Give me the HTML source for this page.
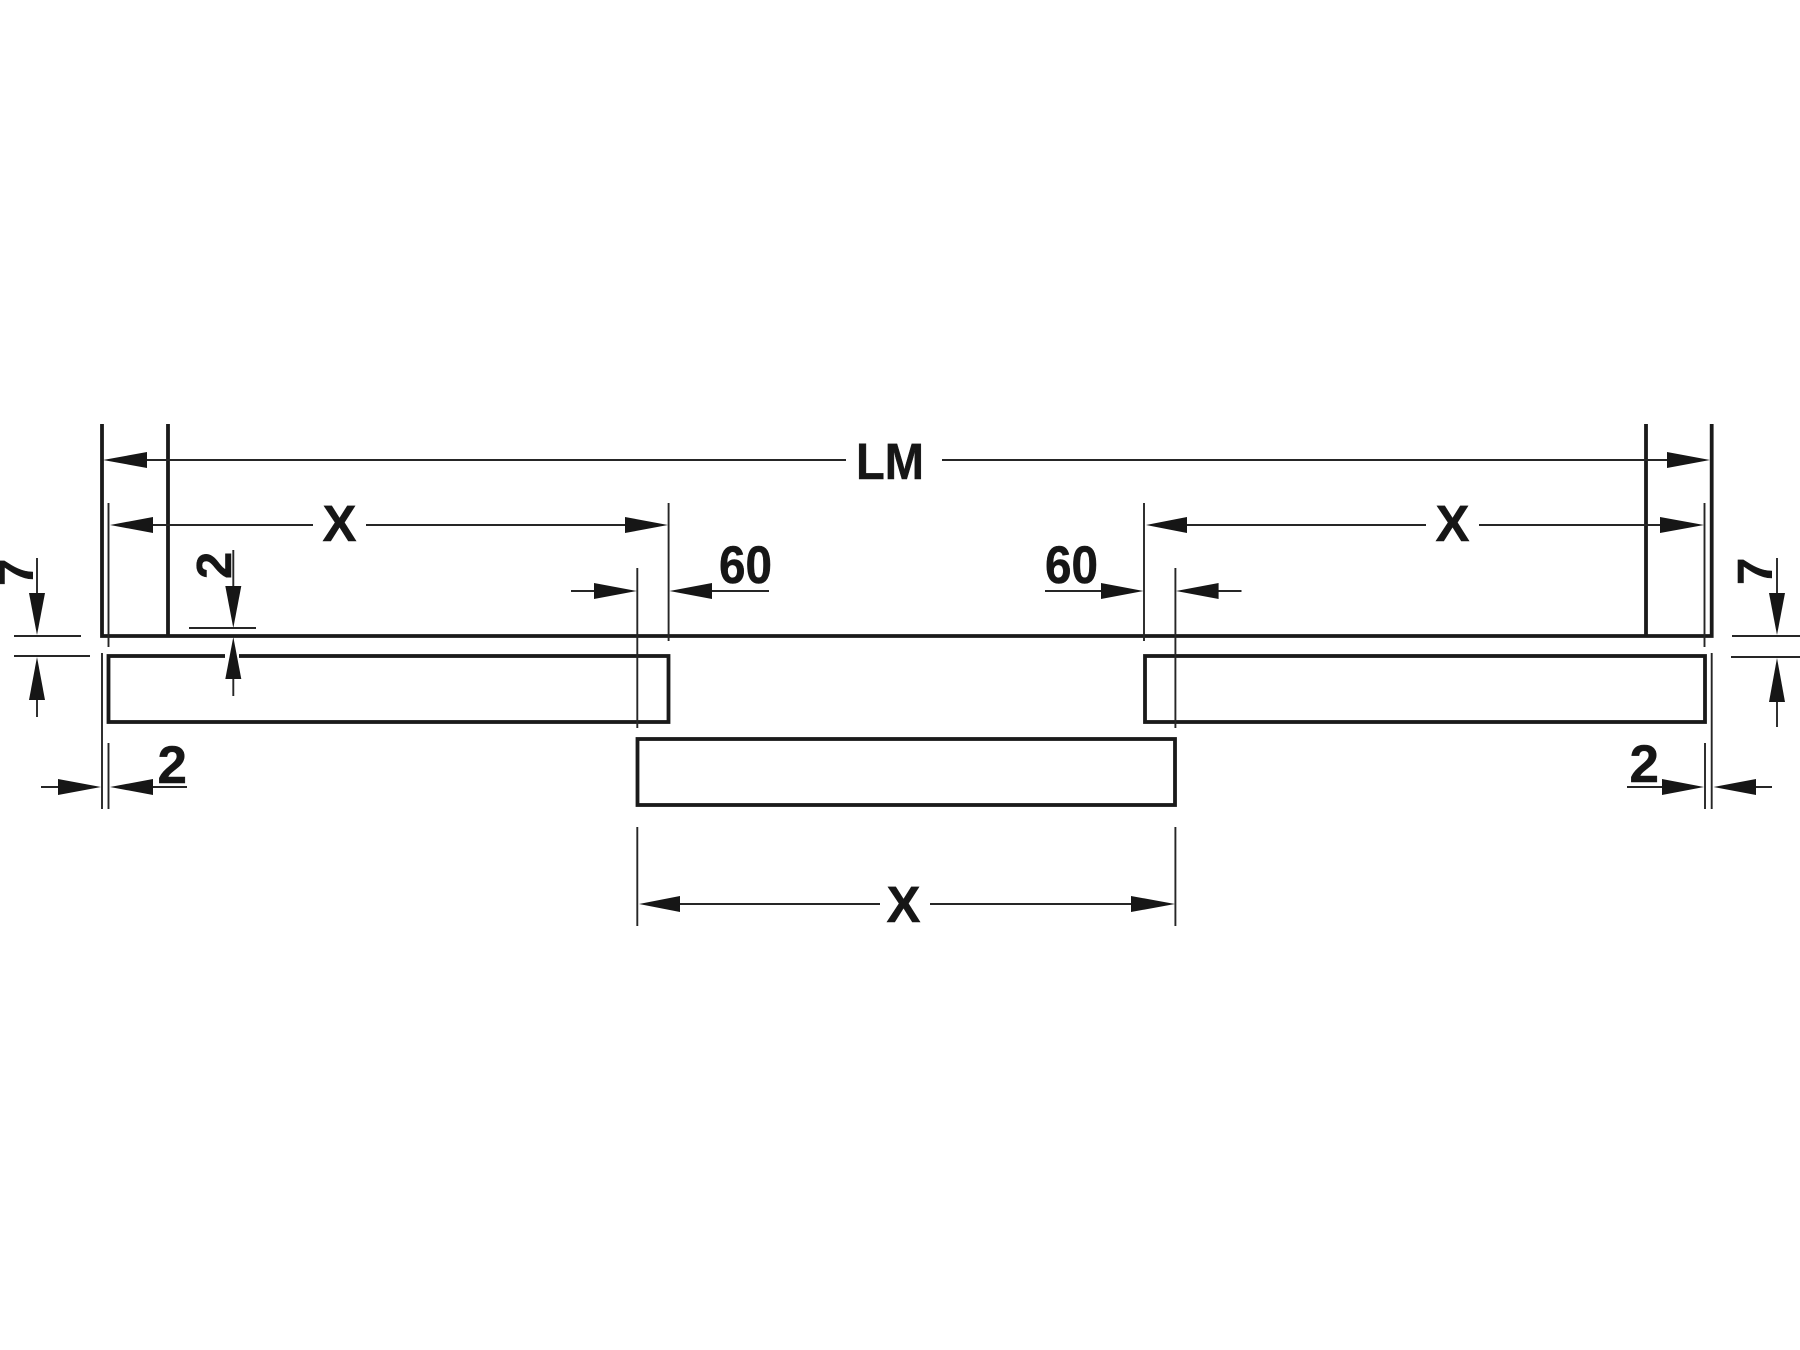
<!DOCTYPE html>
<html><head><meta charset="utf-8"><style>
html,body{margin:0;padding:0;background:#fff}
svg{display:block}
text{font-family:"Liberation Sans",sans-serif;font-weight:bold;fill:#161616;font-size:51px;stroke:#161616;stroke-width:.5}
.d{font-size:53px}
.r{font-size:49px}
.k{stroke:#1a1a1a;stroke-width:3.8;fill:none;stroke-linejoin:miter}
.t{stroke:#262626;stroke-width:1.9;fill:none}
.a{fill:#161616;stroke:none}
</style></head><body>
<svg width="1800" height="1350" viewBox="0 0 1800 1350" xmlns="http://www.w3.org/2000/svg">
<rect width="1800" height="1350" fill="#fff"/>
<!-- main profile -->
<path class="k" d="M102 424V636H1711.7V424"/>
<path class="k" d="M168 424V636M1646 424V636"/>
<!-- rects -->
<rect class="k" x="108.5" y="656" width="560" height="66"/>
<rect class="k" x="1145" y="656" width="560" height="66"/>
<rect class="k" x="637.5" y="739" width="537.5" height="66"/>
<line x1="225" y1="656" x2="239" y2="656" stroke="#fff" stroke-width="6"/>
<!-- thin extension lines -->
<path class="t" d="M108.5 503V647M668.6 503V641M637.3 568V728M1144 503V641M1175.4 568V728M1704.5 503V647"/>
<path class="t" d="M637.3 827V926M1175.4 827V926"/>
<path class="t" d="M102 653V809M108.5 743V809M1711.7 653V809M1705 743V809"/>
<path class="t" d="M14 636H81M14 656H90M189 628H256M1732 636H1800M1731 657H1800"/>
<!-- LM -->
<path class="t" d="M147 460H846M942 460H1667"/>
<polygon class="a" points="103,460 147,452 147,468"/>
<polygon class="a" points="1710,460 1667,452 1667,468"/>
<text x="856" y="479" textLength="68" lengthAdjust="spacingAndGlyphs">LM</text>
<!-- X left -->
<path class="t" d="M153 525H313M366 525H625"/>
<polygon class="a" points="110,525 153,517 153,533"/>
<polygon class="a" points="668,525 625,517 625,533"/>
<text x="322.5" y="541">X</text>
<!-- X right -->
<path class="t" d="M1187 525H1426M1479 525H1660"/>
<polygon class="a" points="1146,525 1187,517 1187,533"/>
<polygon class="a" points="1704,525 1660,517 1660,533"/>
<text x="1435.5" y="541">X</text>
<!-- X middle -->
<path class="t" d="M680 904H880M930 904H1131"/>
<polygon class="a" points="639,904 680,896 680,912"/>
<polygon class="a" points="1175,904 1131,896 1131,912"/>
<text x="886.5" y="922">X</text>
<!-- 60 left -->
<path class="t" d="M571 591H594M712 591H769"/>
<polygon class="a" points="637,591 594,583 594,599"/>
<polygon class="a" points="669.5,591 712,583 712,599"/>
<text class="d" x="719" y="583" textLength="53" lengthAdjust="spacingAndGlyphs">60</text>
<!-- 60 right -->
<path class="t" d="M1045 591H1101M1218 591H1241.5"/>
<polygon class="a" points="1143.5,591 1101,583 1101,599"/>
<polygon class="a" points="1176,591 1218.6,583 1218.6,599"/>
<text class="d" x="1045" y="583" textLength="53" lengthAdjust="spacingAndGlyphs">60</text>
<!-- vertical 2 -->
<path class="t" d="M233.3 550V586M233.3 679V696"/>
<polygon class="a" points="233.3,628 225.3,586 241.3,586"/>
<polygon class="a" points="233.3,637 225.3,679 241.3,679"/>
<text class="r" transform="translate(231,579) rotate(-90)">2</text>
<!-- left 7 -->
<path class="t" d="M37 558V593M37 700V717"/>
<polygon class="a" points="37,635 29,593 45,593"/>
<polygon class="a" points="37,657 29,700 45,700"/>
<text class="r" transform="translate(33,586) rotate(-90)">7</text>
<!-- right 7 -->
<path class="t" d="M1777 558V593M1777 702V727"/>
<polygon class="a" points="1777,635 1769,593 1785,593"/>
<polygon class="a" points="1777,658 1769,702 1785,702"/>
<text class="r" transform="translate(1772,585) rotate(-90)">7</text>
<!-- bottom left 2 -->
<path class="t" d="M41 787H58M153 787H187"/>
<polygon class="a" points="101,787 58,779 58,795"/>
<polygon class="a" points="110,787 153,779 153,795"/>
<text class="d" x="157.5" y="783">2</text>
<!-- bottom right 2 -->
<path class="t" d="M1627 787H1662M1756 787H1772"/>
<polygon class="a" points="1704,787 1662,779 1662,795"/>
<polygon class="a" points="1713.5,787 1756,779 1756,795"/>
<text class="d" x="1629.5" y="782">2</text>
</svg>
</body></html>
